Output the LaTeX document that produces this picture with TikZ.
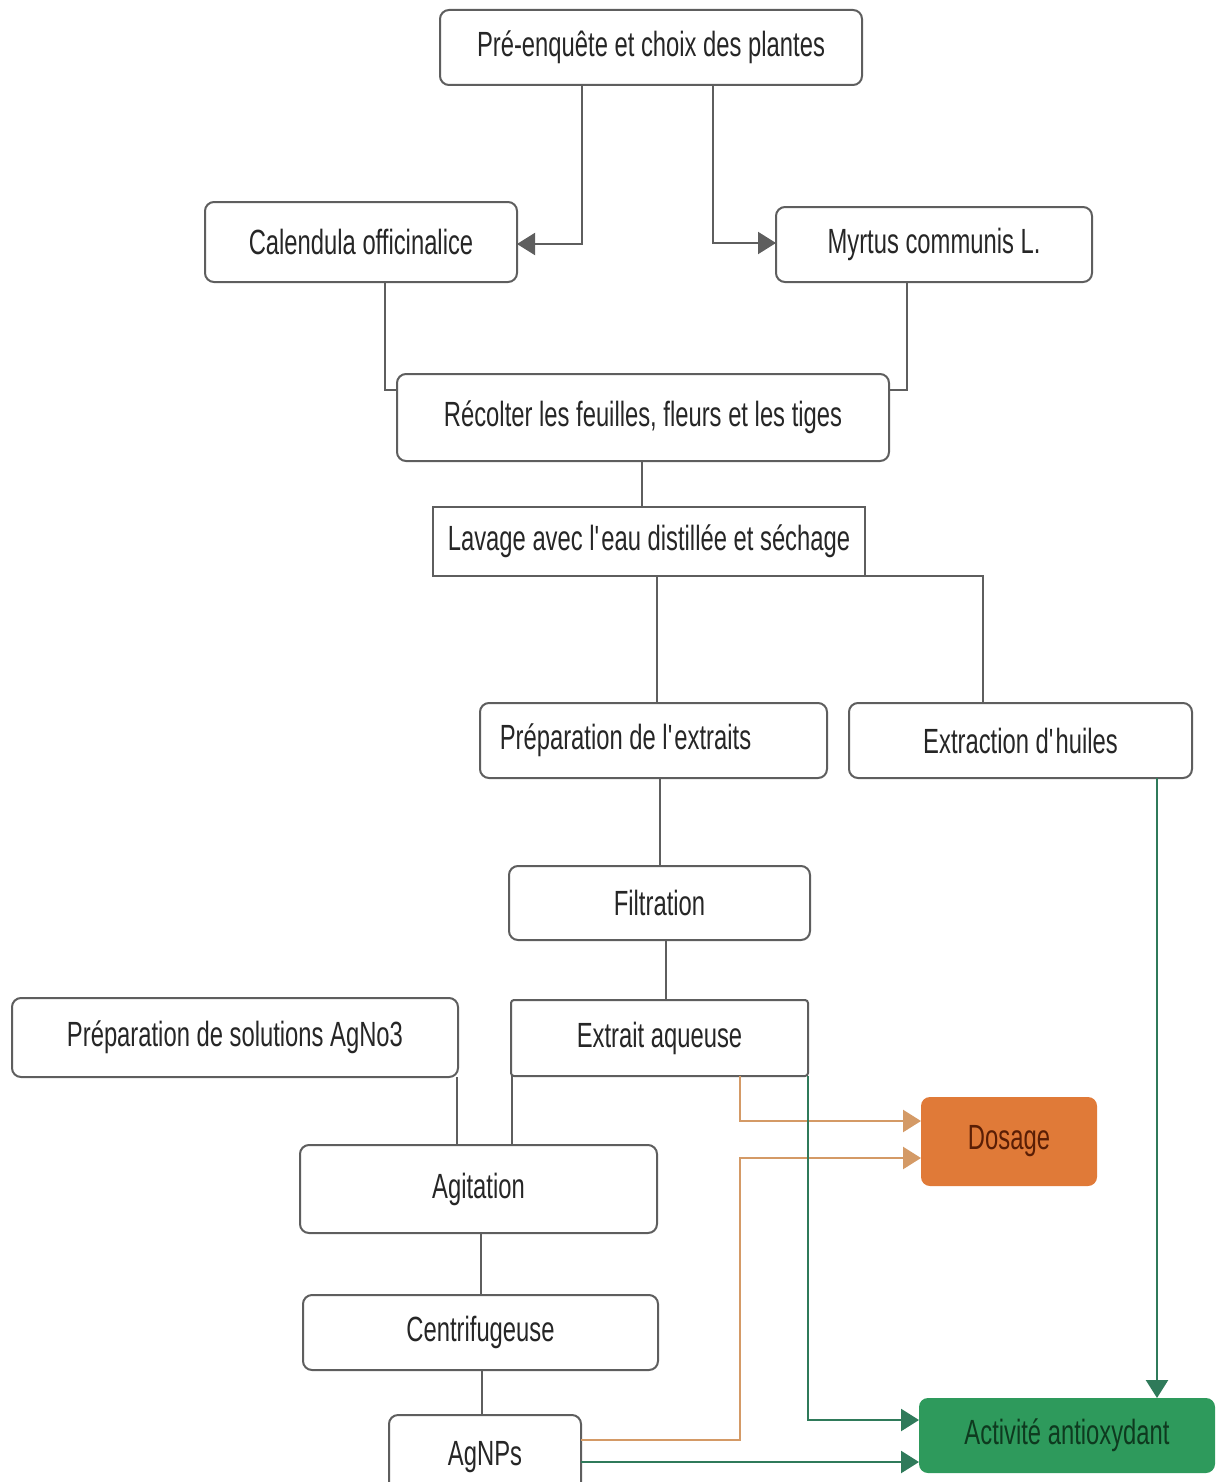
\documentclass[tikz,border=0pt]{standalone}
\usepackage{fontspec}
\setmainfont{Liberation Sans}[FakeStretch=0.68]
\usetikzlibrary{calc,arrows.meta}
\definecolor{edgegray}{HTML}{5E5E5E}
\definecolor{txtgray}{HTML}{262626}
\definecolor{orfill}{HTML}{E07A38}
\definecolor{ortxt}{HTML}{5A1E05}
\definecolor{orline}{HTML}{D49A66}
\definecolor{grfill}{HTML}{2E9A5C}
\definecolor{grtxt}{HTML}{0E3A1F}
\definecolor{grline}{HTML}{2F7A5A}
\newcommand{\sq}{\textquotesingle}
\tikzset{
  box/.style={draw=edgegray, line width=2pt, rounded corners=9pt, fill=white,
    text=txtgray, font=\fontsize{35}{40}\selectfont, inner sep=0pt, outer sep=0pt},
  sqbox/.style={box, rounded corners=0pt},
  conn/.style={draw=edgegray, line width=2pt},
  arr/.style={conn, -{Triangle[length=18pt,width=22pt]}},
  oarr/.style={draw=orline, line width=2.5pt, -{Triangle[length=18pt,width=22pt]}},
  garr/.style={draw=grline, line width=2.5pt, -{Triangle[length=18pt,width=22pt]}},
}
\begin{document}
\begin{tikzpicture}[x=1pt,y=-1pt]
\useasboundingbox (0,0) rectangle (1216,1482);
% nodes
\node[box, minimum width=422, minimum height=75] (pre) at (651,47.5) {Pré-enquête et choix des plantes};
\node[box, minimum width=312, minimum height=80] (cal) at (361,242) {Calendula officinalice};
\node[box, minimum width=316, minimum height=75] (myr) at (934,244.5) {Myrtus communis L.};
\node[box, minimum width=492, minimum height=87] (rec) at (643,417.5) {Récolter les feuilles, fleurs et les tiges};
\node[sqbox, minimum width=432, minimum height=69] (lav) at (649,541.5) {Lavage avec l\sq eau distillée et séchage};
\node[box, minimum width=347, minimum height=75] (prep) at (653.5,740.5) {Préparation de l\sq extraits\kern56pt};
\node[box, minimum width=343, minimum height=75] (ext) at (1020.5,740.5) {Extraction d\sq huiles};
\node[box, minimum width=301, minimum height=74] (fil) at (659.5,903) {Filtration};
\node[box, minimum width=446, minimum height=79] (agno) at (235,1037.5) {Préparation de solutions AgNo3};
\node[box, rounded corners=3pt, minimum width=297, minimum height=76] (ea) at (659.5,1038) {Extrait aqueuse};
\node[box, draw=none, fill=orfill, text=ortxt, minimum width=176, minimum height=89] (dos) at (1009,1141.5) {Dosage};
\node[box, minimum width=357, minimum height=88] (agi) at (478.5,1189) {Agitation};
\node[box, minimum width=355, minimum height=75] (cen) at (480.5,1332.5) {Centrifugeuse};
\node[box, minimum width=192, minimum height=80, text depth=0pt] (agn) at (485,1455) {\raisebox{4pt}{AgNPs}};
\node[box, draw=none, fill=grfill, text=grtxt, minimum width=296, minimum height=75] (act) at (1067,1435.5) {Activité antioxydant};
% gray connectors
\draw[arr] ($(pre.south west)+(142,0)$) |- ($(cal.east)+(0,2)$);
\draw[arr] ($(pre.south west)+(273,0)$) |- ($(myr.west)+(0,-1.5)$);
\draw[conn] ($(cal.south west)+(180,0)$) |- ($(rec.north west)+(0,16)$);
\draw[conn] ($(myr.south west)+(131,0)$) |- ($(rec.north east)+(0,16)$);
\draw[conn] ($(rec.south west)+(245,0)$) -- ($(lav.north west)+(209,0)$);
\draw[conn] ($(lav.south west)+(224,0)$) -- ($(prep.north west)+(177,0)$);
\draw[conn] (lav.south east) -| ($(ext.north west)+(134,0)$);
\draw[conn] ($(prep.south west)+(180,0)$) -- ($(fil.north west)+(151,0)$);
\draw[conn] ($(fil.south west)+(157,0)$) -- ($(ea.north west)+(155,0)$);
\draw[conn] ($(agno.south east)+(-1,0)$) -- ($(agi.north west)+(157,0)$);
\draw[conn] ($(ea.south west)+(1,0)$) -- ($(agi.north west)+(212,0)$);
\draw[conn] ($(agi.south west)+(181,0)$) -- ($(cen.north west)+(178,0)$);
\draw[conn] ($(cen.south west)+(179,0)$) -- ($(agn.north west)+(93,0)$);
% orange connectors
\draw[oarr] ($(ea.south west)+(229,0)$) |- ($(dos.west)+(0,-20.5)$);
\coordinate (obend) at (740,1440);
\draw[oarr] ($(agn.north east)+(0,25)$) -- (obend) |- ($(dos.west)+(0,16.5)$);
% green connectors
\draw[garr] (ea.south east) |- ($(act.west)+(0,-15.5)$);
\draw[garr] ($(agn.north east)+(0,47)$) -- ($(act.west)+(0,26.5)$);
\draw[garr] ($(ext.south west)+(308,0)$) -- ($(act.north west)+(238,0)$);
\end{tikzpicture}
\end{document}
